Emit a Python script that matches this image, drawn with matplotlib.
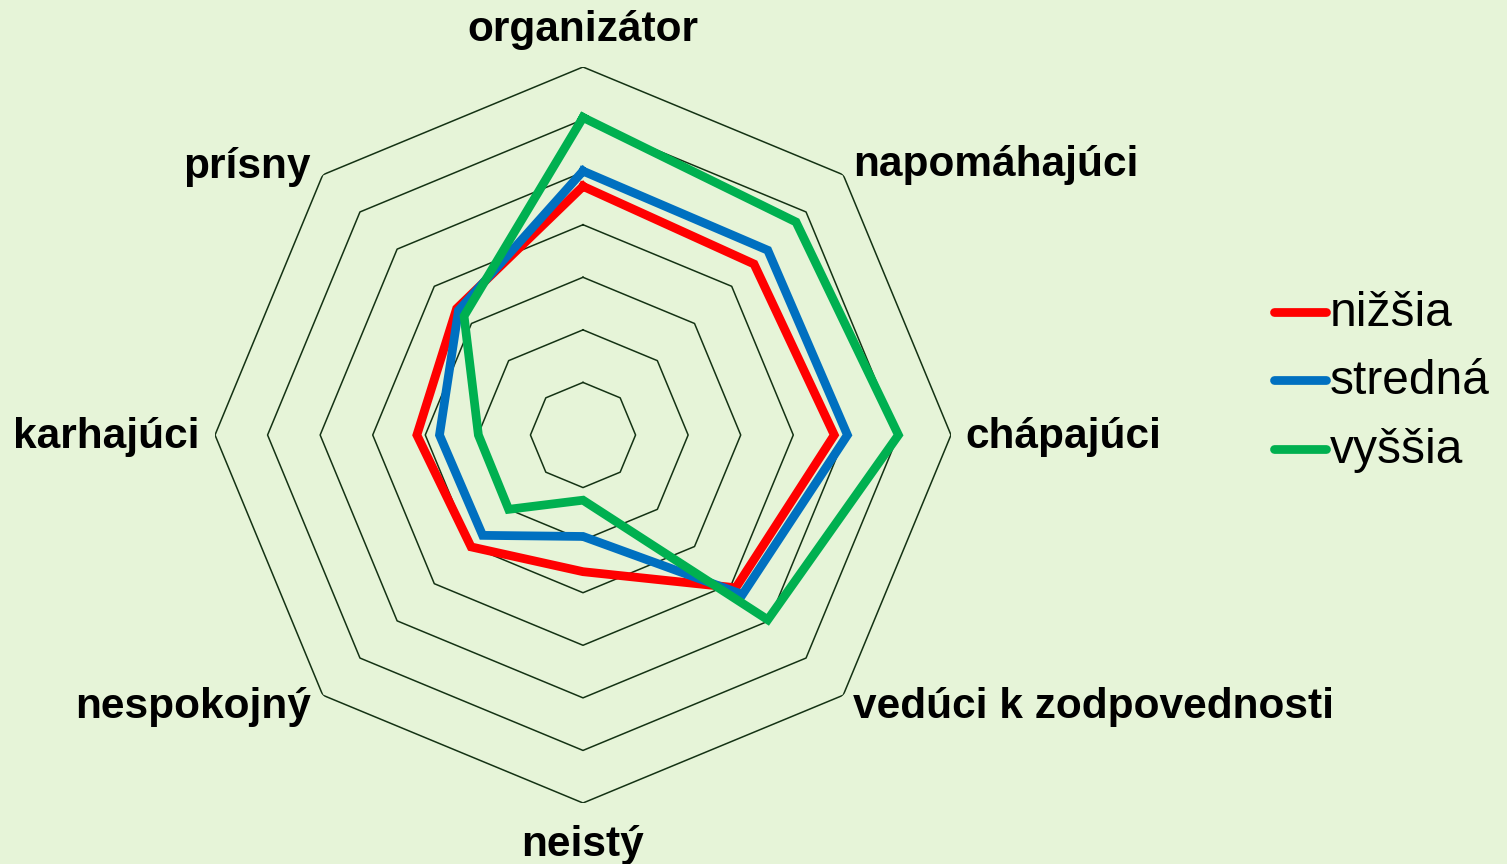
import numpy as np
import matplotlib
matplotlib.use("Agg")
import matplotlib.pyplot as plt
from matplotlib.lines import Line2D

plt.rcParams['font.family'] = ['Liberation Sans', 'DejaVu Sans']

categories = ["organizátor", "napomáhajúci", "chápajúci", "vedúci k zodpovednosti",
              "neistý", "nespokojný", "karhajúci", "prísny"]
series_names = ["nižšia", "stredná", "vyššia"]
nizsia = [4.73, 4.60, 4.78, 4.11, 2.60, 3.01, 3.16, 3.40]
stredna = [5.02, 4.97, 5.03, 4.29, 1.93, 2.70, 2.73, 3.35]
vyssia = [6.04, 5.73, 6.00, 4.97, 1.24, 2.00, 1.99, 3.20]
ring_levels = [1, 2, 3, 4, 5, 6, 7]

colors = ["#FF0000", "#0070C0", "#00B050"]
bg = "#E6F4D8"

W, H = 1507, 864
fig = plt.figure(figsize=(W / 100, H / 100), dpi=100, facecolor=bg)
cx, cy, R = 583, 435, 368
ax = fig.add_axes([(cx - R) / W, (H - cy - R) / H, 2 * R / W, 2 * R / H], projection='polar')
ax.set_facecolor('none')
ax.set_theta_offset(np.pi / 2)
ax.set_theta_direction(-1)
ax.set_ylim(0, 7)
ax.grid(False)
ax.spines['polar'].set_visible(False)
ax.set_xticks([])
ax.set_yticks([])

n = len(categories)
angles = np.linspace(0, 2 * np.pi, n, endpoint=False)
closed = np.concatenate([angles, angles[:1]])

for lv in ring_levels:
    ax.plot(closed, [lv] * (n + 1), color="#143214", lw=1.1, zorder=1)

for vals, col in zip([nizsia, stredna, vyssia], colors):
    v = list(vals) + [vals[0]]
    ax.plot(closed, v, color=col, lw=6.3, solid_joinstyle='miter', zorder=3)

# category labels (pixel anchor positions)
label_pos = [
    (583, 30, 'center'),
    (853, 165, 'left'),
    (965, 437, 'left'),
    (853, 707, 'left'),
    (583, 845, 'center'),
    (311, 707, 'right'),
    (199, 437, 'right'),
    (311, 167, 'right'),
]
for name, (px, py, ha) in zip(categories, label_pos):
    fig.text(px / W, 1 - py / H, name, ha=ha, va='center', fontsize=30.5,
             fontweight='bold', color='black')

# legend (manual)
leg_rows = [312, 380, 449]
for name, col, py in zip(series_names, colors, leg_rows):
    fig.add_artist(Line2D([1274 / W, 1326 / W], [1 - py / H, 1 - py / H],
                          transform=fig.transFigure, color=col, lw=6.3,
                          solid_capstyle='round'))
    fig.text(1330 / W, 1 - (py + 2) / H, name, ha='left', va='center', fontsize=34.5,
             color='black')

fig.savefig("out.png", dpi=100, facecolor=bg)
